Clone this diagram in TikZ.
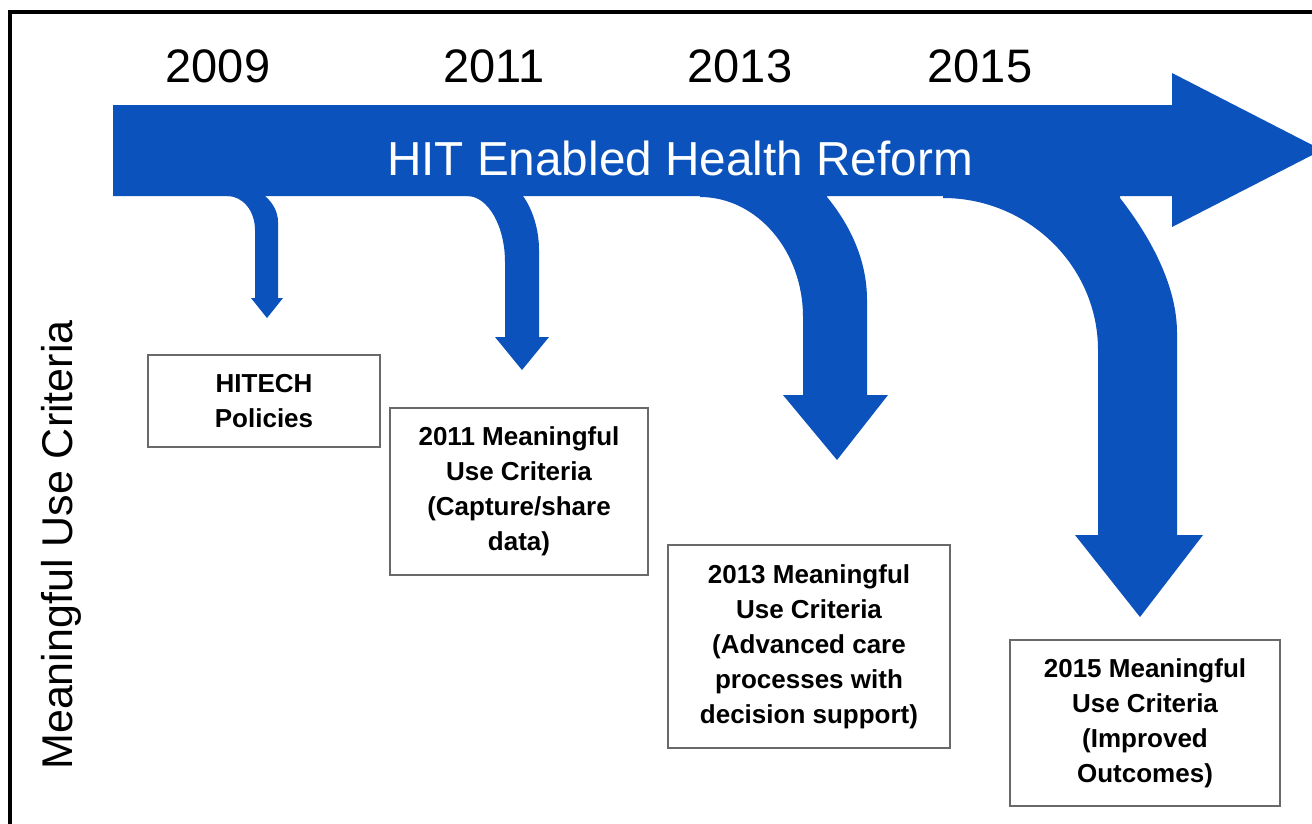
\documentclass[tikz,border=0pt]{standalone}
\usepackage{fontspec}
\setmainfont{Liberation Sans}
\definecolor{hitblue}{RGB}{12,82,188}
\definecolor{boxgray}{RGB}{105,105,105}
\begin{document}
\begin{tikzpicture}[x=1pt,y=-1pt,
  milestone/.style={draw=boxgray,line width=2.5pt,fill=white,align=center,
    inner sep=0pt,font=\bfseries\fontsize{26}{35}\selectfont},
  yearlabel/.style={anchor=base,font=\fontsize{47}{50}\selectfont},
  blockarrow/.style={fill=hitblue,draw=none}]
\useasboundingbox (0,0) rectangle (1312,823);
\clip (0,0) rectangle (1312,823);
\fill[white] (0,0) rectangle (1312,823);

% outer frame (top and left edges)
\draw[line width=4pt,black] (10,830) -- (10,12) -- (1320,12);

% main timeline arrow
\path[blockarrow] (113,105) -- (1172,105) -- (1172,73) -- (1322,150)
  -- (1172,227) -- (1172,196) -- (113,196) -- cycle;

% 2009 branch
\path[blockarrow] (227,190) -- (227,196) .. controls (243,196) and (255,211) .. (255,230)
  -- (255,298) -- (251,298) -- (267,318) -- (283,298) -- (278,298) -- (278,222)
  .. controls (278,212) and (273,203) .. (265,196) -- (265,190) -- cycle;
% 2011 branch
\path[blockarrow] (467,190) -- (467,196) .. controls (488,196) and (505,226) .. (505,262)
  -- (505,337) -- (495,337) -- (522,370) -- (549,337) -- (539,337) -- (539,250)
  .. controls (539,230) and (533,210) .. (523,196) -- (523,190) -- cycle;
% 2013 branch
\path[blockarrow] (700,190) -- (700,197) .. controls (757,197) and (803,251) .. (803,317)
  -- (803,395) -- (783,395) -- (837,460) -- (888,395) -- (867,395) -- (867,300)
  .. controls (867,260) and (850,225) .. (827,197) -- (827,190) -- cycle;
% 2015 branch
\path[blockarrow] (943,190) -- (943,198) .. controls (1028,198) and (1098,266) .. (1098,350)
  -- (1098,535) -- (1075,535) -- (1140,617) -- (1203,535) -- (1177,535) -- (1177,333)
  .. controls (1177,290) and (1155,243) .. (1120,198) -- (1120,190) -- cycle;

% headings
\node[yearlabel] (y2009) at (218,82) {2009};
\node[yearlabel] (y2011) at (494,82) {2011};
\node[yearlabel] (y2013) at (740,82) {2013};
\node[yearlabel] (y2015) at (980,82) {2015};
\node[anchor=base,text=white,font=\fontsize{47.7}{50}\selectfont] (title) at (680,175)
  {HIT Enabled Health Reform};
\node[rotate=90,anchor=base,font=\fontsize{43}{46}\selectfont] (axis) at (72,545)
  {Meaningful Use Criteria};

% milestone boxes
\node[milestone,minimum width=232pt,minimum height=92pt] (hitech) at (264,401)
  {HITECH\\Policies};
\node[milestone,minimum width=258pt,minimum height=167pt] (mu2011) at (519,491.5)
  {2011 Meaningful\\Use Criteria\\(Capture/share\\data)};
\node[milestone,minimum width=282pt,minimum height=203pt] (mu2013) at (809,646.5)
  {2013 Meaningful\\Use Criteria\\(Advanced care\\processes with\\decision support)};
\node[milestone,minimum width=270pt,minimum height=166pt] (mu2015) at (1145,723)
  {2015 Meaningful\\Use Criteria\\(Improved\\Outcomes)};
\end{tikzpicture}
\end{document}
